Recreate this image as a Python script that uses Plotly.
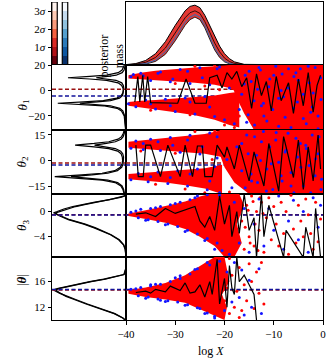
import plotly.graph_objects as go

# ---------------- data ----------------
# contour colour bars (sigma levels)
sigma_edges = [0, 0.5, 1.0, 1.5, 2.0, 2.5, 3.0, 3.5]
reds = ["#67000d", "#b31217", "#dc2a25", "#f5603f", "#fb9a7a", "#fdcab4", "#fff3ee"]
blues = ["#08306b", "#0d57a1", "#2a7aba", "#559fcd", "#8fc1de", "#c4daee", "#f5f9fe"]
sigma_ticks = [1, 2, 3]
sigma_labels = ["1<i>σ</i>", "2<i>σ</i>", "3<i>σ</i>"]

# posterior mass against log X
pm_logx = [-40, -38, -36, -34, -32, -30, -28, -27, -26, -25, -24, -23, -22, -21, -20, -19, -18, -16, 0]
pm_outer = [0.006, 0.023, 0.072, 0.18, 0.37, 0.63, 0.86, 0.93, 0.95, 0.91, 0.79, 0.63, 0.455, 0.30, 0.18, 0.10, 0.05, 0.01, 0]
pm_mid = [0.003, 0.012, 0.043, 0.12, 0.27, 0.51, 0.75, 0.83, 0.86, 0.82, 0.69, 0.52, 0.35, 0.21, 0.11, 0.055, 0.025, 0.004, 0]
pm_inner = [0.0, 0.002, 0.014, 0.057, 0.17, 0.385, 0.63, 0.72, 0.76, 0.72, 0.59, 0.41, 0.24, 0.12, 0.05, 0.019, 0.006, 0.0, 0]
pm_blue = [0.0, 0.005, 0.022, 0.078, 0.21, 0.43, 0.68, 0.76, 0.80, 0.76, 0.63, 0.45, 0.27, 0.15, 0.066, 0.026, 0.009, 0.0, 0]

# marginal densities (left column)
th1_grid = [-31, -25, -20, -16, -14, -12, -11, -10, -9, -8, -6, -4, -2, 0, 2, 4, 6, 8, 9, 10, 11, 12, 14, 16, 20]
th1_dens_a = [0.002, 0.009, 0.018, 0.043, 0.084, 0.209, 0.388, 0.624, 0.388, 0.210, 0.088, 0.049, 0.039, 0.035,
              0.042, 0.058, 0.107, 0.262, 0.489, 0.784, 0.488, 0.262, 0.106, 0.053, 0.022]
th1_dens_b = [0.005, 0.011, 0.024, 0.061, 0.121, 0.305, 0.572, 0.922, 0.572, 0.307, 0.124, 0.065, 0.044, 0.033,
              0.030, 0.036, 0.057, 0.135, 0.250, 0.402, 0.249, 0.133, 0.052, 0.026, 0.010]

th2_grid = [-19.7, -17, -15, -13, -11.5, -10.5, -9.5, -8.5, -7.5, -6, -4, -2, 0, 2, 4, 5.5, 7, 8, 9, 10, 11, 12.5, 14, 16, 17.9]
th2_dens_a = [0.025, 0.042, 0.069, 0.147, 0.32, 0.598, 0.963, 0.598, 0.324, 0.152, 0.077, 0.053, 0.046, 0.05,
              0.067, 0.113, 0.233, 0.43, 0.688, 0.43, 0.232, 0.108, 0.059, 0.036, 0.024]
th2_dens_b = [0.019, 0.032, 0.053, 0.113, 0.246, 0.461, 0.742, 0.461, 0.247, 0.116, 0.058, 0.039, 0.032, 0.033,
              0.044, 0.071, 0.145, 0.266, 0.425, 0.265, 0.144, 0.067, 0.038, 0.023, 0.015]

th3_grid = [-7.25, -6, -5.3, -4.5, -3.7, -3.0, -2.6, -2.0, -1.3, -0.8, -0.5, -0.2, 0.0, 0.4, 0.8, 1.1, 1.5, 1.9, 2.3, 2.5, 2.8]
th3_dens_a = [0.0, 0.01, 0.03, 0.09, 0.2, 0.33, 0.41, 0.55, 0.76, 0.86, 0.92, 0.98, 0.93, 0.84, 0.72, 0.6, 0.42, 0.22, 0.07, 0.02, 0.0]
th3_dens_b = [0.0, 0.012, 0.035, 0.1, 0.21, 0.34, 0.43, 0.57, 0.78, 0.88, 0.93, 0.95, 0.9, 0.8, 0.68, 0.56, 0.39, 0.2, 0.06, 0.015, 0.0]

abs_grid = [10, 10.3, 11, 11.9, 12.5, 13.2, 13.7, 14.2, 14.5, 14.7, 14.9, 15.3, 15.7, 16.0, 16.4, 16.8, 17.1, 18, 19.85]
abs_dens_a = [0.01, 0.04, 0.15, 0.39, 0.52, 0.68, 0.8, 0.9, 0.95, 0.98, 0.93, 0.78, 0.62, 0.49, 0.3, 0.12, 0.03, 0.005, 0.0]
abs_dens_b = [0.012, 0.045, 0.16, 0.40, 0.54, 0.70, 0.81, 0.89, 0.93, 0.95, 0.91, 0.76, 0.6, 0.47, 0.28, 0.11, 0.025, 0.004, 0.0]

# true values (dashed lines): red run, blue run
true_red = [0.95, -1.5, -0.5, 14.7]
true_blue = [-4.3, -2.6, -0.55, 14.75]

# axis ranges and ticks of the four parameter rows
row_ranges = [[-31, 20], [-19.7, 17.9], [-7.25, 2.8], [10, 19.85]]
row_ticks = [[-20, 0, 20], [-15, 0, 15], [-4, 0], [12, 16]]
row_ticklabels = [["−20", "0", "20"], ["−15", "0", "15"], ["−4", "0"], ["12", "16"]]
row_titles = ["<i>θ</i><sub>1</sub>", "<i>θ</i><sub>2</sub>", "<i>θ</i><sub>3</sub>", "|<b><i>θ</i></b>|"]
logx_ticks = [-40, -30, -20, -10, 0]
logx_labels = ["−40", "−30", "−20", "−10", "0"]

# dense clouds of dead points (outline of the solid red area)
th1_cloud_up_x = [-39.5, -37, -34, -30, -26, -22, -19, -17, -17, -19, -22, -26, -30, -34, -37, -39.5]
th1_cloud_up_y = [12, 14, 15.5, 17, 18, 19, 20, 20, -2, 2, 4.5, 6, 7, 8, 8.5, 9.5]
th1_cloud_lo_x = [-39.5, -37, -34, -30, -26, -22, -19, -17, -17, -19, -22, -26, -30, -34, -37, -39.5]
th1_cloud_lo_y = [-9, -8, -7.5, -6.5, -5.5, -4, -2, -1, -29, -27, -23, -19.5, -17, -15, -13.5, -12]
th1_cloud_r_x = [-18.5, 0, 0, -14, -16, -17.5, -18.5, -17.5]
th1_cloud_r_y = [20, 20, -31, -31, -18, -6, 4, 12]

th2_cloud_up_x = [-39.5, -36, -32, -28, -24, -20.5, -20.5, -24, -28, -32, -36, -39.5]
th2_cloud_up_y = [11, 12, 13, 14, 15.5, 17.9, 2, 4, 5, 6, 6.8, 7.5]
th2_cloud_lo_x = [-39.5, -36, -32, -28, -24, -20.5, -20.5, -24, -28, -32, -36, -39.5]
th2_cloud_lo_y = [-8, -7.2, -6.5, -5.5, -4.5, -2.5, -19.7, -16.5, -14.5, -13, -12, -11]
th2_cloud_r_x = [-21, 0, 0, -15, -18, -20, -21, -20.5]
th2_cloud_r_y = [17.9, 17.9, -19.7, -19.7, -13, -4, 4, 12]

th3_cloud_x = [-39.5, -36, -32, -28, -25, -23, -17, -16, -17.5, -16.5, -18, -20, -22, -25, -28, -32, -36, -39.5]
th3_cloud_y = [-0.3, 0.2, 0.9, 1.6, 2.4, 2.8, 2.8, 1, -2, -5, -7.25, -7.25, -5.5, -4, -2.8, -1.8, -1.2, -0.7]

abs_cloud_x = [-39.5, -36, -32, -28, -24, -22, -20, -19, -20.5, -19.5, -20, -21.5, -24, -28, -32, -36, -39.5]
abs_cloud_y = [14.7, 15.1, 15.8, 17, 18.9, 19.85, 19.85, 16, 14, 12, 10, 10.5, 11.3, 12.7, 13.2, 13.6, 14.1]

# scattered dead points
th1_blue_x = [-39.5, -39, -38.5, -37, -35, -33, -31, -29, -27, -25, -23, -21, -19, -38, -36, -34, -32, -30, -28, -26,
              -24, -22, -20, -18, -17, -16, -15, -14, -13, -12, -11, -10, -9, -8, -7, -6, -5, -4, -3, -2, -1, -0.5,
              -12.5, -8.5, -5.5, -2.5, -15.5,
              -16.5, -15.8, -15.2, -14.6, -13.9, -13.3, -12.7, -12.1, -11.4, -10.8, -10.2, -9.6, -9.0, -8.3, -7.7,
              -7.1, -6.5, -5.9, -5.2, -4.6, -4.0, -3.4, -2.8, -2.2, -1.6, -1.0, -0.4, -36.5, -33.5, -30.5, -27.5,
              -24.5, -21.5, -35, -31, -27, -23]
th1_blue_y = [-10.5, 10.8, 12.5, 13.5, 7.8, 14.5, 6.8, 16.5, 5.5, 17.8, 4.5, 18.5, 2, -12.8, -7.5, -14.5, -6.8, -16.5,
              -5.8, -18.5, -4.8, -20.5, -23, -26, -15, 5, 15, -8, 18, -20, 3, 12, -28, -5, 17, -14, 8, -22, 19, -2,
              -30, 10, -12, 0, 14, -17, -25,
              -3, 12, -19, 7, -27, 1, 16, -10, -24, 9, -15, 19, -6, 13, -21, 2, -29, 11, -9, 17, -3, -26, 6, -13,
              18, -20, -7, 11.5, 13.5, 9, 15, 10, 17, -10.5, -12, -9, -13]
th1_red_x = [-26, -22, -20, -18, -19, -21, -17, -16.5, -35, -30, -24, -27]
th1_red_y = [19, 19.8, -27, -29, 15, 0.5, -20, 18, -15.5, 5.5, 3.5, -19]

th2_blue_x = [-39, -38, -36.5, -35, -33, -31, -29, -27, -25, -23, -21.5, -39, -37.5, -35.5, -33.5, -31.5, -29.5,
              -27.5, -25.5, -23.5, -22, -21, -19.5, -18.5, -17.5, -16.5, -15.5, -14.5, -13.5, -12.5, -11.5, -10.5,
              -9.5, -8.5, -7.5, -6.5, -5.5, -4.5, -3.5, -2.5, -1.5, -0.8, -0.3,
              -16.5, -15.8, -15.2, -14.6, -13.9, -13.3, -12.7, -12.1, -11.4, -10.8, -10.2, -9.6, -9.0, -8.3, -7.7,
              -7.1, -6.5, -5.9, -5.2, -4.6, -4.0, -3.4, -2.8, -2.2, -1.6, -1.0, -0.4, -36.5, -33.5, -30.5, -27.5,
              -24.5, -21.5, -35, -31, -27, -23]
th2_blue_y = [7.2, 11.5, 6.5, 12.5, 5.8, 13.5, 4.8, 14.8, 3.8, 16.2, 1.5, -11.4, -7.6, -12.5, -6.8, -13.6, -6, -15,
              -5, -17.2, -3.5, -19, 0.5, -16, 8, -6, 15, -12, 3, 11, -18, -2, 16.5, -9, 6, -15, 13, -4, 9, -19, 1,
              14, -11,
              10, -16, 4, -8, 14, -13, 0, 17, -5, 8, -17, 12, -1, -12, 5, 16, -7, -19, 2, 10, -15, 7, -3, 15, -9, 4,
              -17, 10, 11, 9, 12, 8, 14, -9.5, -10, -8, -12]
th2_red_x = [-30, -26, -22, -28, -24, -19, -34, -37, -22.5]
th2_red_y = [4.2, 17, 17.5, -16.8, -19, -18.5, -14, 5.5, 0.5]

th3_blue_x = [-38, -36, -34, -32, -30, -28, -26, -24, -22, -21, -19, -18, -17, -16, -15, -14, -13, -12, -11, -10,
              -9, -8, -7, -6, -5, -4, -3, -2, -1, -0.5,
              -39, -37, -35, -33, -31, -29, -27, -25.5, -23.5, -37.5, -35.5, -33.5, -31.5, -29.5, -27.5, -25.5,
              -23.5, -21.5, -20.5]
th3_blue_y = [0.1, -1.4, 0.6, -2.1, 1.3, -3.2, 2.2, -4.6, -6, 2.6, -6.8, 1.5, -5, 0.5, -6.5, -2, 2, -5.5, 0.5, -3,
              2.5, -6, -1.5, 1.8, -4.5, 0, -6.5, 2.2, -2.5, 1,
              -0.1, 0.35, 0.5, 0.8, 1.1, 1.5, 1.9, 2.5, 2.7, -1.0, -1.3, -1.6, -2.0, -2.4, -3.0, -3.6, -4.3, -5.0,
              -6.2]
th3_red_x = [-19, -18, -17.5, -16.5, -16, -15.5, -15, -14.5, -14, -13.5, -13, -12.5, -12, -11.5, -11, -10.5, -10,
             -9.5, -9, -8.5, -8, -7.5, -7, -6.5, -6, -5.5, -5, -4.5, -4, -3.5, -3, -2.5, -2, -1.5, -1, -0.5,
             -15.8, -15.2, -14.8, -14.2, -13.8, -13.2, -12.8, -12.2]
th3_red_y = [-1, -3, 2, -1.5, -6, 1, -4, 2.5, -5.5, 0, -3, 1.5, -6.5, -1, 2.2, -4.5, 0.8, -2, -5.5, 1.5, -3.5, 0,
             -6.8, 2.6, -2.8, -5, 1, -1.5, -4, 2, -0.5, -3.5, -6, 1.5, -4.8, -1.2,
             -2.5, 0.2, -5, 1.6, -2, -6.2, 2.2, -0.3]

abs_blue_x = [-38, -36, -34, -32, -30, -28, -26, -24, -23, -22, -21, -20, -19.5, -18.5, -18, -17, -16.5, -16, -15,
              -14.5, -13, -12.5, -35, -33, -29, -25,
              -39, -37, -35, -33, -31, -29, -27, -25.5, -23.5, -37.5, -35.5, -33.5, -31.5, -29.5, -27.5, -25.5,
              -23.5, -22]
abs_blue_y = [14.9, 13.4, 15.6, 12.9, 16.6, 12.3, 17.9, 11, 18.6, 10.3, 19.2, 11.5, 17.5, 12.8, 19, 13.5, 17.8, 10.8,
              16.2, 12, 18, 11, 15.5, 13.1, 16.9, 11.8,
              14.8, 15.1, 15.3, 15.6, 16.0, 16.5, 17.2, 18.0, 19.0, 13.8, 13.6, 13.3, 13.0, 12.8, 12.4, 11.9, 11.1,
              10.6]
abs_red_x = [-20.5, -20, -19.5, -19, -18.5, -18, -17.5, -17, -16.5, -16, -15.5, -15, -14.5, -14, -13.5, -13, -12.5,
             -12, -19, -17]
abs_red_y = [18.5, 13, 15, 11, 17, 12, 14.5, 18.2, 11.5, 15.5, 13, 18.8, 16, 11.8, 17.5, 14.2, 19, 12.5, 19.6, 10.4]

# one chain of dead points joined by a black line
th1_chain_x = [-38.2, -37.6, -37.2, -36.6, -36.2, -35.6, -35, -33, -29.5, -27.8, -26, -23.7, -23, -21.5, -20.5, -19.5,
               -18.5, -17.5, -16.5, -15.5, -14.5, -13.5, -12.5, -11.5, -10.5, -9.5, -8.5, -7, -6, -5, -4, -3, -2,
               -1.2, -0.5]
th1_chain_y = [-9, 11, -9, 12, -9, 11, -9.5, -9.5, -10, 9, -10, -10, 10, 12, 2, 14, 9, 15, 3, 10, -14, 13, -4, 7,
               -16, 11, -8, 6, -18, 9, -12, 14, -17, 4, 12]
th2_chain_x = [-38, -37.5, -36.5, -36, -35, -33, -31.5, -29, -28, -26.5, -25.5, -24.5, -24, -22.5, -21.5, -20, -19.5,
               -18, -17, -15, -14, -12, -11, -9, -8, -6, -5, -4, -3, -2, -1, -0.5]
th2_chain_y = [9, -9.5, -9.5, 9, 9, -9.5, 9, -9.5, 9, -9.5, 8.5, 8.5, -9.5, -9.5, 9, 2, 8, -5, 9, -12, 5, -15, 10,
               -18, 14, -10, 12, -17, 8, -12, 15, -5]
th3_chain_x = [-38, -36, -34, -32, -30, -28, -26, -25, -24, -23, -22, -21, -20, -19, -18.5, -17.5, -17, -16, -15, -14,
               -13.5, -12.5, -12, -11, -8, -7.5, -4, -3.5, -2, -1.5, -0.5]
th3_chain_y = [-0.4, -0.2, -0.8, 0.5, -0.3, 0.3, 0.8, -1.5, -2.5, -0.8, -3, 2.5, -2, 1, -4, 0, -3.5, 2.8, -3, -1,
               -7.3, 2.8, -4, 1, -7.3, -3, -7.3, -2.5, -7.3, 0.5, -7.3]
abs_chain_x = [-38, -36, -35, -34, -32, -31, -29, -28, -27, -26, -25, -24, -23, -22.5, -21.5, -21, -20, -19.5, -19,
               -18.5, -18, -17.5, -17, -16, -15, -14, -13.5]
abs_chain_y = [14.3, 14.5, 14.2, 14.8, 14.4, 15.3, 14.6, 15.8, 14.2, 14.4, 15.5, 13.6, 16, 14, 19.5, 12.5, 16.5, 12,
               18.5, 15, 14, 19.85, 16, 17, 15.5, 14, 10]

# ---------------- figure ----------------
W, H = 329, 360
RED, BLUE = "#ff0000", "#1414ff"
DRED, DBLUE = "#9a1010", "#12129a"
FONT = "Liberation Serif"


def dom_x(a, b):
    return [a / W, b / W]


def dom_y(top, bottom):
    return [1 - bottom / H, 1 - top / H]


left_x = dom_x(52, 126)
right_x = dom_x(126, 323)
rows = [dom_y(65, 130), dom_y(130, 194), dom_y(194, 257), dom_y(257, 320)]

fig = go.Figure()

# colour bars
for i in range(len(reds)):
    lo, hi = sigma_edges[i], sigma_edges[i + 1]
    fig.add_trace(go.Bar(x=[0, 1], y=[hi - lo, hi - lo], base=[lo, lo], width=0.52,
                         marker=dict(color=[reds[i], blues[i]], line_width=0),
                         xaxis="x", yaxis="y", showlegend=False, hoverinfo="skip"))
fig.add_trace(go.Bar(x=[0, 1], y=[sigma_edges[-1]] * 2, base=[0, 0], width=0.52,
                     marker=dict(color="rgba(0,0,0,0)", line=dict(color="black", width=1.2)),
                     xaxis="x", yaxis="y", showlegend=False, hoverinfo="skip"))

# posterior mass
fig.add_trace(go.Scatter(x=pm_logx, y=pm_inner, mode="lines", line=dict(color="black", width=0.8),
                         xaxis="x2", yaxis="y2", showlegend=False))
fig.add_trace(go.Scatter(x=pm_logx, y=pm_outer, mode="lines", line=dict(color="black", width=1),
                         fill="tonexty", fillcolor="rgba(225,35,30,0.9)", xaxis="x2", yaxis="y2", showlegend=False))
fig.add_trace(go.Scatter(x=pm_logx, y=pm_mid, mode="lines", line=dict(color="black", width=0.8),
                         xaxis="x2", yaxis="y2", showlegend=False))
fig.add_trace(go.Scatter(x=pm_logx, y=pm_blue, mode="lines", line=dict(color="#2f6fb8", width=1),
                         xaxis="x2", yaxis="y2", showlegend=False))

densities = [(th1_grid, th1_dens_a, th1_dens_b), (th2_grid, th2_dens_a, th2_dens_b),
             (th3_grid, th3_dens_a, th3_dens_b), (abs_grid, abs_dens_a, abs_dens_b)]
clouds = [[(th1_cloud_up_x, th1_cloud_up_y), (th1_cloud_lo_x, th1_cloud_lo_y), (th1_cloud_r_x, th1_cloud_r_y)],
          [(th2_cloud_up_x, th2_cloud_up_y), (th2_cloud_lo_x, th2_cloud_lo_y), (th2_cloud_r_x, th2_cloud_r_y)],
          [(th3_cloud_x, th3_cloud_y)],
          [(abs_cloud_x, abs_cloud_y)]]
reds_pts = [(th1_red_x, th1_red_y), (th2_red_x, th2_red_y), (th3_red_x, th3_red_y), (abs_red_x, abs_red_y)]
blues_pts = [(th1_blue_x, th1_blue_y), (th2_blue_x, th2_blue_y), (th3_blue_x, th3_blue_y), (abs_blue_x, abs_blue_y)]
chains = [(th1_chain_x, th1_chain_y), (th2_chain_x, th2_chain_y), (th3_chain_x, th3_chain_y),
          (abs_chain_x, abs_chain_y)]

for r in range(4):
    xl, yl = "x%d" % (3 + r), "y%d" % (3 + r)
    xr, yr = "x%d" % (7 + r), "y%d" % (7 + r)
    grid, da, db = densities[r]
    # left: marginal densities on their side
    fig.add_trace(go.Scatter(x=db, y=grid, mode="lines", line=dict(color="black", width=1.2),
                             xaxis=xl, yaxis=yl, showlegend=False))
    fig.add_trace(go.Scatter(x=da, y=grid, mode="lines", line=dict(color="black", width=1.2),
                             xaxis=xl, yaxis=yl, showlegend=False))
    for val, col in ((true_red[r], DRED), (true_blue[r], DBLUE)):
        fig.add_trace(go.Scatter(x=[1, 0], y=[val, val], mode="lines",
                                 line=dict(color=col, width=1.5, dash="4px,2.5px"),
                                 xaxis=xl, yaxis=yl, showlegend=False))
        fig.add_trace(go.Scatter(x=[-40, 0], y=[val, val], mode="lines",
                                 line=dict(color=col, width=1.5, dash="4px,2.5px"),
                                 xaxis=xr, yaxis=yr, showlegend=False))
    # right: dead points
    for cx, cy in clouds[r]:
        fig.add_trace(go.Scatter(x=cx, y=cy, mode="lines", fill="toself", fillcolor=RED,
                                 line=dict(width=0, color=RED), xaxis=xr, yaxis=yr, showlegend=False))
    px, py = reds_pts[r]
    fig.add_trace(go.Scatter(x=px, y=py, mode="markers", marker=dict(color=RED, size=3),
                             xaxis=xr, yaxis=yr, showlegend=False))
    px, py = blues_pts[r]
    fig.add_trace(go.Scatter(x=px, y=py, mode="markers", marker=dict(color=BLUE, size=3),
                             xaxis=xr, yaxis=yr, showlegend=False))
    px, py = chains[r]
    fig.add_trace(go.Scatter(x=px, y=py, mode="lines", line=dict(color="black", width=1.2),
                             xaxis=xr, yaxis=yr, showlegend=False))

tickfont = dict(family=FONT, size=11, color="black")
box = dict(showgrid=False, zeroline=False, showline=True, linecolor="black", linewidth=1, mirror=True,
           ticks="", showticklabels=False, automargin=False)

layout = dict(
    template="none",
    width=W, height=H, margin=dict(l=0, r=0, t=0, b=0, pad=0), autosize=False,
    paper_bgcolor="white", plot_bgcolor="white", barmode="overlay", showlegend=False,
    font=dict(family=FONT, size=12, color="black"),
    xaxis=dict(domain=left_x, range=[-0.24, 6.81], showgrid=False, zeroline=False, showline=False,
               showticklabels=False, ticks="", automargin=False),
    yaxis=dict(domain=dom_y(2, 65), range=[0, 3.5], showgrid=False, zeroline=False, showline=True,
               linecolor="black", linewidth=1, ticks="outside", ticklen=3.5, tickcolor="black",
               tickvals=sigma_ticks, ticktext=sigma_labels, tickfont=tickfont, automargin=False),
    xaxis2=dict(box, domain=right_x, range=[-40, 0], anchor="y2"),
    yaxis2=dict(box, domain=dom_y(2, 65), range=[0, 1.0], anchor="x2"),
)
for r in range(4):
    layout["xaxis%d" % (3 + r)] = dict(box, domain=left_x, range=[1.0, 0], anchor="y%d" % (3 + r))
    layout["yaxis%d" % (3 + r)] = dict(box, domain=rows[r], range=row_ranges[r], anchor="x%d" % (3 + r),
                                       ticks="outside", ticklen=3.5, tickcolor="black", showticklabels=True,
                                       tickvals=row_ticks[r], ticktext=row_ticklabels[r], tickfont=tickfont)
    layout["xaxis%d" % (7 + r)] = dict(box, domain=right_x, range=[-40, 0], anchor="y%d" % (7 + r))
    layout["yaxis%d" % (7 + r)] = dict(box, domain=rows[r], range=row_ranges[r], anchor="x%d" % (7 + r))
layout["xaxis10"].update(ticks="outside", ticklen=3.5, tickcolor="black", showticklabels=True,
                         tickvals=logx_ticks, ticktext=logx_labels, tickfont=tickfont)

fig.update_layout(**layout)

annotations = [dict(text="posterior<br>mass", x=111 / W, y=1 - 33 / H, xref="paper", yref="paper",
                    showarrow=False, textangle=-90, font=dict(family=FONT, size=12))]
annotations.append(dict(text="log <i>X</i>", x=225 / W, y=1 - 343 / H, xref="paper", yref="paper",
                        yanchor="top", showarrow=False, borderpad=0, font=dict(family=FONT, size=12)))
for r in range(4):
    yc = (rows[r][0] + rows[r][1]) / 2
    annotations.append(dict(text=row_titles[r], x=12 / W, y=yc, xref="paper", yref="paper",
                            showarrow=False, textangle=-90, font=dict(family=FONT, size=13)))
fig.update_layout(annotations=annotations)

# the page body keeps its default 8px margin otherwise
fig.write_html("out.html", config={"displayModeBar": False},
               post_script="document.body.style.margin='0';")
